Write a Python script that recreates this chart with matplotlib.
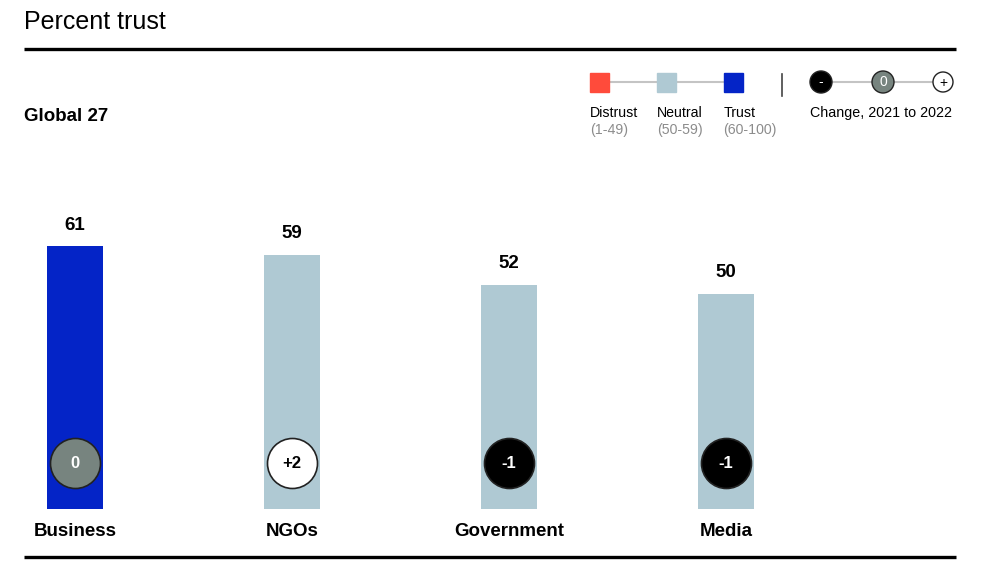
import matplotlib.pyplot as plt
from matplotlib.patches import Rectangle, Circle

plt.rcParams['font.family'] = ['Liberation Sans', 'DejaVu Sans']

# data
categories = ['Business', 'NGOs', 'Government', 'Media']
trust = [61, 59, 52, 50]
change = [0, 2, -1, -1]

DISTRUST = '#FF4B3B'
NEUTRAL = '#AFC9D3'
TRUST = '#0424C7'
GREY = '#77847F'

def bar_color(v):
    if v < 50:
        return DISTRUST
    if v < 60:
        return NEUTRAL
    return TRUST

def change_style(c):
    # face, text colour, label
    if c > 0:
        return 'white', 'black', f'+{c}'
    if c < 0:
        return 'black', 'white', f'{c}'
    return GREY, 'white', '0'

W, H = 983, 571
fig = plt.figure(figsize=(W / 100, H / 100), dpi=100)

# overlay axes in pixel coords for the decoration
deco = fig.add_axes([0, 0, 1, 1])
deco.set_xlim(0, W)
deco.set_ylim(H, 0)
deco.axis('off')

deco.text(24, 22, 'Percent trust', fontsize=18, va='center', ha='left')
deco.plot([24, 956], [49, 49], color='black', lw=2.4, solid_capstyle='butt')
deco.plot([24, 956], [557, 557], color='black', lw=2.4, solid_capstyle='butt')
deco.text(24, 116.5, 'Global 27', fontsize=13.5, fontweight='bold', va='center', ha='left')

# legend: colour scale
lx = [599.5, 666.5, 733]
deco.plot([lx[0], lx[2]], [82, 82], color='#C4C4C4', lw=1.5, zorder=1)
for x, c in zip(lx, [DISTRUST, NEUTRAL, TRUST]):
    deco.add_patch(Rectangle((x - 9.5, 72.5), 19, 19, color=c, zorder=2))
for x, name, rng in zip(lx, ['Distrust', 'Neutral', 'Trust'],
                        ['(1-49)', '(50-59)', '(60-100)']):
    deco.text(x - 9.5, 113, name, fontsize=10.2, va='center', ha='left')
    deco.text(x - 9.5, 130, rng, fontsize=10.2, va='center', ha='left', color='#8C8C8C')
deco.plot([782, 782], [74, 96], color='#444444', lw=1.2)

# legend: change circles
cx = [821, 883, 943]
deco.plot([cx[0], cx[2]], [82, 82], color='#C4C4C4', lw=1.5, zorder=1)
for x, c in zip(cx, [-1, 0, 1]):
    face, tc, _ = change_style(c)
    r = 10 if c > 0 else 11
    deco.add_patch(Circle((x, 82), r, facecolor=face, edgecolor='#222222', lw=1, zorder=2))
    deco.text(x, 82.5, {-1: '-', 0: '0', 1: '+'}[c], color=tc, fontsize=10,
              ha='center', va='center', zorder=3)
deco.text(881, 113, 'Change, 2021 to 2022', fontsize=10.3, va='center', ha='center')

# bar axes: bar centres at 75 + 217*i px, zero at y=509 px, 4.31 px per unit
scale = 4.31
top_px = 180
ax = fig.add_axes([0, (H - 509) / H, 1, (509 - top_px) / H])
ax.set_xlim(-75 / 217, (W - 75) / 217)
ax.set_ylim(0, (509 - top_px) / scale)
ax.axis('off')

xs = list(range(len(categories)))
ax.bar(xs, trust, width=56 / 217, color=[bar_color(v) for v in trust], zorder=1)
for x, v in zip(xs, trust):
    ax.annotate(str(v), (x, v), xytext=(0, 21), textcoords='offset pixels',
                ha='center', va='center', fontsize=13.5, fontweight='bold')
    ax.annotate(categories[x], (x, 0), xytext=(0, -23), textcoords='offset pixels',
                ha='center', va='center', fontsize=13.5, fontweight='bold',
                annotation_clip=False)

circ_y = (509 - 463) / scale
for x, c in zip(xs, change):
    face, tc, lab = change_style(c)
    ax.scatter(x, circ_y, s=36 ** 2, color=face, edgecolor='#222222', lw=1.2, zorder=2)
    ax.text(x, circ_y, lab, color=tc, fontsize=12, fontweight='bold',
            ha='center', va='center', zorder=3)

fig.savefig('out.png', dpi=100)
